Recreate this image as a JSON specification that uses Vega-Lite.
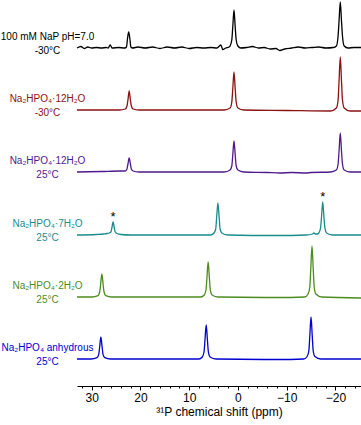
{
  "$schema": "https://vega.github.io/schema/vega-lite/v6.json",
  "width": 284,
  "height": 386,
  "autosize": {"type": "none"},
  "padding": {"left": 77, "top": 0, "right": 0, "bottom": 39},
  "background": "white",
  "config": {"view": {"stroke": null}, "font": "Liberation Sans"},
  "datasets": {
    "spectra": [
      {"s":"a","x":33,"y":338},{"s":"a","x":32.2,"y":339.5},{"s":"a","x":31.5,"y":337.5},{"s":"a","x":30.8,"y":339},{"s":"a","x":30,"y":338},{"s":"a","x":29,"y":338.5},{"s":"a","x":28,"y":338},{"s":"a","x":27,"y":338.5},{"s":"a","x":26.6,"y":338},{"s":"a","x":26.2,"y":341},{"s":"a","x":25.8,"y":338},{"s":"a","x":24.5,"y":338.5},{"s":"a","x":23.2,"y":338},{"s":"a","x":22.85,"y":339},{"s":"a","x":22.65,"y":347},{"s":"a","x":22.4,"y":354},{"s":"a","x":22.15,"y":347},{"s":"a","x":21.95,"y":339},{"s":"a","x":21.6,"y":338},{"s":"a","x":20.5,"y":339},{"s":"a","x":19,"y":338},{"s":"a","x":17.5,"y":339},{"s":"a","x":16,"y":337.5},{"s":"a","x":14.5,"y":339},{"s":"a","x":13,"y":338},{"s":"a","x":11.5,"y":339},{"s":"a","x":10,"y":337.5},{"s":"a","x":8.5,"y":338.5},{"s":"a","x":7,"y":338},{"s":"a","x":5.5,"y":338.5},{"s":"a","x":4.3,"y":338},{"s":"a","x":3.5,"y":341},{"s":"a","x":3.1,"y":336.5},{"s":"a","x":2.5,"y":338},{"s":"a","x":1.8,"y":339},{"s":"a","x":1.6,"y":340},{"s":"a","x":1.25,"y":346},{"s":"a","x":1.05,"y":359},{"s":"a","x":0.8,"y":376},{"s":"a","x":0.55,"y":359},{"s":"a","x":0.35,"y":346},{"s":"a","x":0,"y":340},{"s":"a","x":-0.6,"y":338},{"s":"a","x":-1.8,"y":338.5},{"s":"a","x":-3,"y":339.5},{"s":"a","x":-4.2,"y":338},{"s":"a","x":-5.4,"y":338.5},{"s":"a","x":-6.6,"y":337},{"s":"a","x":-7.8,"y":337.5},{"s":"a","x":-8.6,"y":335.5},{"s":"a","x":-9.6,"y":337},{"s":"a","x":-11,"y":338},{"s":"a","x":-12.4,"y":339},{"s":"a","x":-13.8,"y":338},{"s":"a","x":-15.2,"y":338.5},{"s":"a","x":-16.6,"y":339},{"s":"a","x":-18,"y":338},{"s":"a","x":-19.6,"y":338.5},{"s":"a","x":-20.2,"y":340},{"s":"a","x":-20.55,"y":350},{"s":"a","x":-20.75,"y":365},{"s":"a","x":-21,"y":384},{"s":"a","x":-21.25,"y":365},{"s":"a","x":-21.45,"y":350},{"s":"a","x":-21.8,"y":340},{"s":"a","x":-22.6,"y":338},{"s":"a","x":-23.8,"y":338.5},{"s":"a","x":-25.25,"y":338.5},

      {"s":"b","x":33,"y":276},{"s":"b","x":28,"y":276},{"s":"b","x":24.3,"y":276},{"s":"b","x":23.1,"y":277},{"s":"b","x":22.75,"y":280},{"s":"b","x":22.55,"y":286},{"s":"b","x":22.3,"y":295},{"s":"b","x":22.05,"y":286},{"s":"b","x":21.85,"y":280},{"s":"b","x":21.5,"y":277},{"s":"b","x":20.3,"y":276},{"s":"b","x":12,"y":276},{"s":"b","x":2.8,"y":276},{"s":"b","x":1.6,"y":278},{"s":"b","x":1.25,"y":284},{"s":"b","x":1.05,"y":297},{"s":"b","x":0.8,"y":314},{"s":"b","x":0.55,"y":297},{"s":"b","x":0.35,"y":284},{"s":"b","x":0,"y":278},{"s":"b","x":-1.2,"y":276},{"s":"b","x":-10,"y":275.5},{"s":"b","x":-19,"y":275},{"s":"b","x":-20.2,"y":278},{"s":"b","x":-20.55,"y":286},{"s":"b","x":-20.75,"y":305},{"s":"b","x":-21,"y":329},{"s":"b","x":-21.25,"y":305},{"s":"b","x":-21.45,"y":286},{"s":"b","x":-21.8,"y":278},{"s":"b","x":-23,"y":275},{"s":"b","x":-25.25,"y":275},

      {"s":"c","x":33,"y":214},{"s":"c","x":28,"y":214.5},{"s":"c","x":24.3,"y":215},{"s":"c","x":23.1,"y":215},{"s":"c","x":22.75,"y":217},{"s":"c","x":22.55,"y":222},{"s":"c","x":22.3,"y":228},{"s":"c","x":22.05,"y":222},{"s":"c","x":21.85,"y":217},{"s":"c","x":21.5,"y":215},{"s":"c","x":20.3,"y":214},{"s":"c","x":12,"y":214},{"s":"c","x":2.8,"y":214},{"s":"c","x":1.6,"y":216},{"s":"c","x":1.25,"y":220},{"s":"c","x":1.05,"y":231},{"s":"c","x":0.8,"y":245},{"s":"c","x":0.55,"y":231},{"s":"c","x":0.35,"y":220},{"s":"c","x":0,"y":216},{"s":"c","x":-1.2,"y":214},{"s":"c","x":-6,"y":213.5},{"s":"c","x":-8.6,"y":213},{"s":"c","x":-11,"y":213.5},{"s":"c","x":-14,"y":213},{"s":"c","x":-15,"y":213.5},{"s":"c","x":-19,"y":214},{"s":"c","x":-20.2,"y":216},{"s":"c","x":-20.55,"y":222},{"s":"c","x":-20.75,"y":235},{"s":"c","x":-21,"y":253},{"s":"c","x":-21.25,"y":235},{"s":"c","x":-21.45,"y":222},{"s":"c","x":-21.8,"y":216},{"s":"c","x":-23,"y":214},{"s":"c","x":-25.25,"y":214},

      {"s":"d","x":33,"y":151},{"s":"d","x":29,"y":151.5},{"s":"d","x":27.5,"y":152},{"s":"d","x":26.8,"y":152.5},{"s":"d","x":26.4,"y":153},{"s":"d","x":26.05,"y":154},{"s":"d","x":25.85,"y":158},{"s":"d","x":25.6,"y":164},{"s":"d","x":25.35,"y":158},{"s":"d","x":25.15,"y":154},{"s":"d","x":24.8,"y":152.5},{"s":"d","x":24,"y":151.5},{"s":"d","x":22,"y":151},{"s":"d","x":12,"y":151},{"s":"d","x":5.6,"y":151},{"s":"d","x":4.9,"y":153},{"s":"d","x":4.55,"y":157},{"s":"d","x":4.35,"y":169},{"s":"d","x":4.1,"y":183},{"s":"d","x":3.85,"y":169},{"s":"d","x":3.65,"y":157},{"s":"d","x":3.3,"y":153},{"s":"d","x":2.1,"y":151},{"s":"d","x":-8,"y":150.5},{"s":"d","x":-14,"y":151},{"s":"d","x":-15.3,"y":152},{"s":"d","x":-15.6,"y":153},{"s":"d","x":-15.9,"y":152},{"s":"d","x":-16.3,"y":152},{"s":"d","x":-16.6,"y":153},{"s":"d","x":-16.95,"y":158},{"s":"d","x":-17.15,"y":169},{"s":"d","x":-17.4,"y":184},{"s":"d","x":-17.65,"y":169},{"s":"d","x":-17.85,"y":158},{"s":"d","x":-18.2,"y":153},{"s":"d","x":-19.4,"y":151},{"s":"d","x":-25.25,"y":151},

      {"s":"e","x":33,"y":89},{"s":"e","x":29.9,"y":89},{"s":"e","x":28.7,"y":90.4},{"s":"e","x":28.35,"y":94},{"s":"e","x":28.15,"y":102},{"s":"e","x":27.9,"y":112},{"s":"e","x":27.65,"y":102},{"s":"e","x":27.45,"y":94},{"s":"e","x":27.1,"y":90.4},{"s":"e","x":25.9,"y":89},{"s":"e","x":12,"y":89},{"s":"e","x":7.6,"y":89},{"s":"e","x":6.9,"y":91},{"s":"e","x":6.55,"y":96},{"s":"e","x":6.35,"y":108},{"s":"e","x":6.1,"y":124},{"s":"e","x":5.85,"y":108},{"s":"e","x":5.65,"y":96},{"s":"e","x":5.3,"y":91},{"s":"e","x":4.1,"y":89},{"s":"e","x":-8,"y":88.5},{"s":"e","x":-13.7,"y":89},{"s":"e","x":-14.4,"y":92},{"s":"e","x":-14.75,"y":99},{"s":"e","x":-14.95,"y":117},{"s":"e","x":-15.2,"y":140},{"s":"e","x":-15.45,"y":117},{"s":"e","x":-15.65,"y":99},{"s":"e","x":-16,"y":92},{"s":"e","x":-17.2,"y":89},{"s":"e","x":-25.25,"y":88},

      {"s":"f","x":33,"y":27},{"s":"f","x":30.1,"y":27},{"s":"f","x":28.9,"y":28.3},{"s":"f","x":28.55,"y":31.4},{"s":"f","x":28.35,"y":39},{"s":"f","x":28.1,"y":49},{"s":"f","x":27.85,"y":39},{"s":"f","x":27.65,"y":31.4},{"s":"f","x":27.3,"y":28.3},{"s":"f","x":26.1,"y":27},{"s":"f","x":12,"y":27},{"s":"f","x":8,"y":27},{"s":"f","x":7.3,"y":29},{"s":"f","x":6.95,"y":34},{"s":"f","x":6.75,"y":46},{"s":"f","x":6.5,"y":61},{"s":"f","x":6.25,"y":46},{"s":"f","x":6.05,"y":34},{"s":"f","x":5.7,"y":29},{"s":"f","x":4.5,"y":27},{"s":"f","x":-8,"y":26.5},{"s":"f","x":-13.5,"y":27},{"s":"f","x":-14.2,"y":29.5},{"s":"f","x":-14.55,"y":35},{"s":"f","x":-14.75,"y":50},{"s":"f","x":-15,"y":69},{"s":"f","x":-15.25,"y":50},{"s":"f","x":-15.45,"y":35},{"s":"f","x":-15.8,"y":29.5},{"s":"f","x":-17,"y":27},{"s":"f","x":-25.25,"y":27}
    ],
    "labels": [
      {"s":"a","base":338,"t":"100 mM NaP pH=7.0\n-30°C"},
      {"s":"b","base":276,"t":"Na₂HPO₄·12H₂O\n-30°C"},
      {"s":"c","base":214,"t":"Na₂HPO₄·12H₂O\n25°C"},
      {"s":"d","base":151,"t":"Na₂HPO₄·7H₂O\n25°C"},
      {"s":"e","base":89,"t":"Na₂HPO₄·2H₂O\n25°C"},
      {"s":"f","base":27,"t":"Na₂HPO₄ anhydrous\n25°C"}
    ],
    "stars": [
      {"x":25.6,"top":164},
      {"x":-17.4,"top":184}
    ]
  },
  "layer": [
    {
      "data": {"name": "spectra"},
      "mark": {"type": "line", "strokeWidth": 1.3, "interpolate": "monotone"},
      "encoding": {
        "x": {"field": "x", "type": "quantitative",
          "scale": {"domain": [-25.25, 33], "reverse": true, "nice": false, "zero": false},
          "axis": {"orient": "bottom", "values": [30, 20, 10, 0, -10, -20], "grid": false,
            "domainColor": "black", "domainWidth": 1, "tickColor": "black", "tickSize": 4, "tickWidth": 1,
            "labelFontSize": 12, "labelColor": "black", "labelPadding": 2, "labelFont": "Liberation Sans",
            "title": "³¹P chemical shift (ppm)", "titleFontSize": 12, "titleFontWeight": "normal",
            "titleColor": "black", "titlePadding": 3, "titleFont": "Liberation Sans"}},
        "y": {"field": "y", "type": "quantitative", "scale": {"domain": [0, 386], "nice": false, "zero": false}, "axis": null},
        "color": {"field": "s", "type": "nominal",
          "scale": {"domain": ["a","b","c","d","e","f"], "range": ["#000000","#8B1212","#4E1A8C","#1A8C8C","#4C8C1E","#0000D2"]},
          "legend": null}
      }
    },
    {
      "data": {"name": "labels"},
      "mark": {"type": "text", "fontSize": 10, "align": "center", "baseline": "middle", "lineBreak": "\n", "lineHeight": 14, "dy": -11, "font": "Liberation Sans"},
      "encoding": {
        "x": {"datum": 39.05, "type": "quantitative", "axis": null},
        "y": {"field": "base", "type": "quantitative"},
        "text": {"field": "t", "type": "nominal"},
        "color": {"field": "s", "type": "nominal", "legend": null}
      }
    },
    {
      "data": {"name": "stars"},
      "mark": {"type": "text", "fontSize": 13, "align": "center", "baseline": "alphabetic", "dy": -1, "color": "black", "font": "Liberation Sans"},
      "encoding": {
        "x": {"field": "x", "type": "quantitative",
          "axis": {"orient": "bottom", "values": [32,28,26,24,22,18,16,14,12,8,6,4,2,-2,-4,-6,-8,-12,-14,-16,-18,-22,-24],
            "labels": false, "domain": false, "grid": false, "tickSize": 2, "tickColor": "black", "tickWidth": 1, "title": null}},
        "y": {"field": "top", "type": "quantitative"},
        "text": {"value": "*"}
      }
    }
  ],
  "resolve": {"axis": {"x": "independent"}}
}
